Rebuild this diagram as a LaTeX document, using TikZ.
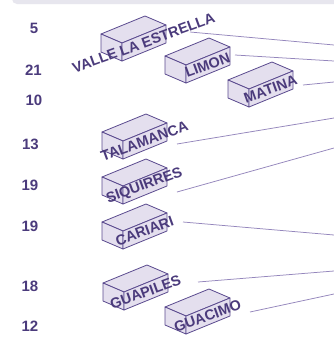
\documentclass[tikz,border=0pt]{standalone}
\usepackage{fontspec}
\setmainfont{Liberation Sans}
\definecolor{ink}{HTML}{4B3B7C}
\definecolor{edge}{HTML}{5B4B8F}
\definecolor{boxfill}{HTML}{E4DFEE}
\definecolor{wire}{HTML}{9486BC}
\definecolor{band}{HTML}{E7E6EE}
\tikzset{
  face/.style={draw=edge, fill=boxfill, line width=0.8pt, line join=round},
  cratelabel/.style={font=\bfseries\fontsize{14.5}{14.5}\selectfont, text=ink, rotate=20, inner sep=0pt},
  count/.style={font=\bfseries\fontsize{15}{15}\selectfont, text=ink, inner sep=0pt},
  link/.style={draw=wire, line width=0.75pt}
}
% a crate: top-left corner of the lid at (#2,#3), label #4, node name #1
\newcommand\crate[4]{%
  \begin{scope}[shift={(#2,#3)}]
    \filldraw[face] (0,0) -- (44,-18) -- (65,-9) -- (21,9) -- cycle;
    \filldraw[face] (0,0) -- (21,9) -- (21,27) -- (0,18) -- cycle;
    \filldraw[face] (21,9) -- (65,-9) -- (65,9) -- (21,27) -- cycle;
    \node[cratelabel] (#1) at (42.5,9) {#4};
  \end{scope}}
\begin{document}
\begin{tikzpicture}[x=1pt, y=-1pt]
\useasboundingbox (0,0) rectangle (334,338);
\fill[white] (0,0) rectangle (334,338);
% panel edge along the top
\fill[band, rounded corners=5pt] (12,-10) rectangle (345,4);

% leader lines
\coordinate (valle-a) at (190,32);  \coordinate (valle-b) at (334,45);
\coordinate (limon-a) at (235,55);  \coordinate (limon-b) at (334,61);
\coordinate (matina-a) at (303,85); \coordinate (matina-b) at (334,82);
\coordinate (tala-a) at (177,144);  \coordinate (tala-b) at (334,118);
\coordinate (siq-a) at (177,192);   \coordinate (siq-b) at (334,148);
\coordinate (cari-a) at (183,222);  \coordinate (cari-b) at (334,235);
\coordinate (guap-a) at (198,282);  \coordinate (guap-b) at (334,271);
\coordinate (guac-a) at (250,312);  \coordinate (guac-b) at (334,294);
\foreach \p in {valle,limon,matina,tala,siq,cari,guap,guac}
  \draw[link] (\p-a) -- (\p-b);

% crates
\crate{valle}{101}{34}{VALLE LA ESTRELLA}
\crate{limon}{165}{56}{LIMON}
\crate{matina}{228}{80}{MATINA}
\crate{tala}{102}{132}{TALAMANCA}
\crate{siq}{102}{177}{SIQUIRRES}
\crate{cari}{102}{222}{CARIARI}
\crate{guap}{103}{283}{GUAPILES}
\crate{guac}{165}{307}{GUACIMO}

% counts
\node[count] (n1) at (34,28) {5};
\node[count] (n2) at (33.5,70) {21};
\node[count] (n3) at (34,100) {10};
\node[count] (n4) at (30.5,144) {13};
\node[count] (n5) at (30,185) {19};
\node[count] (n6) at (30,226) {19};
\node[count] (n7) at (30,286) {18};
\node[count] (n8) at (30,326) {12};
\end{tikzpicture}
\end{document}
